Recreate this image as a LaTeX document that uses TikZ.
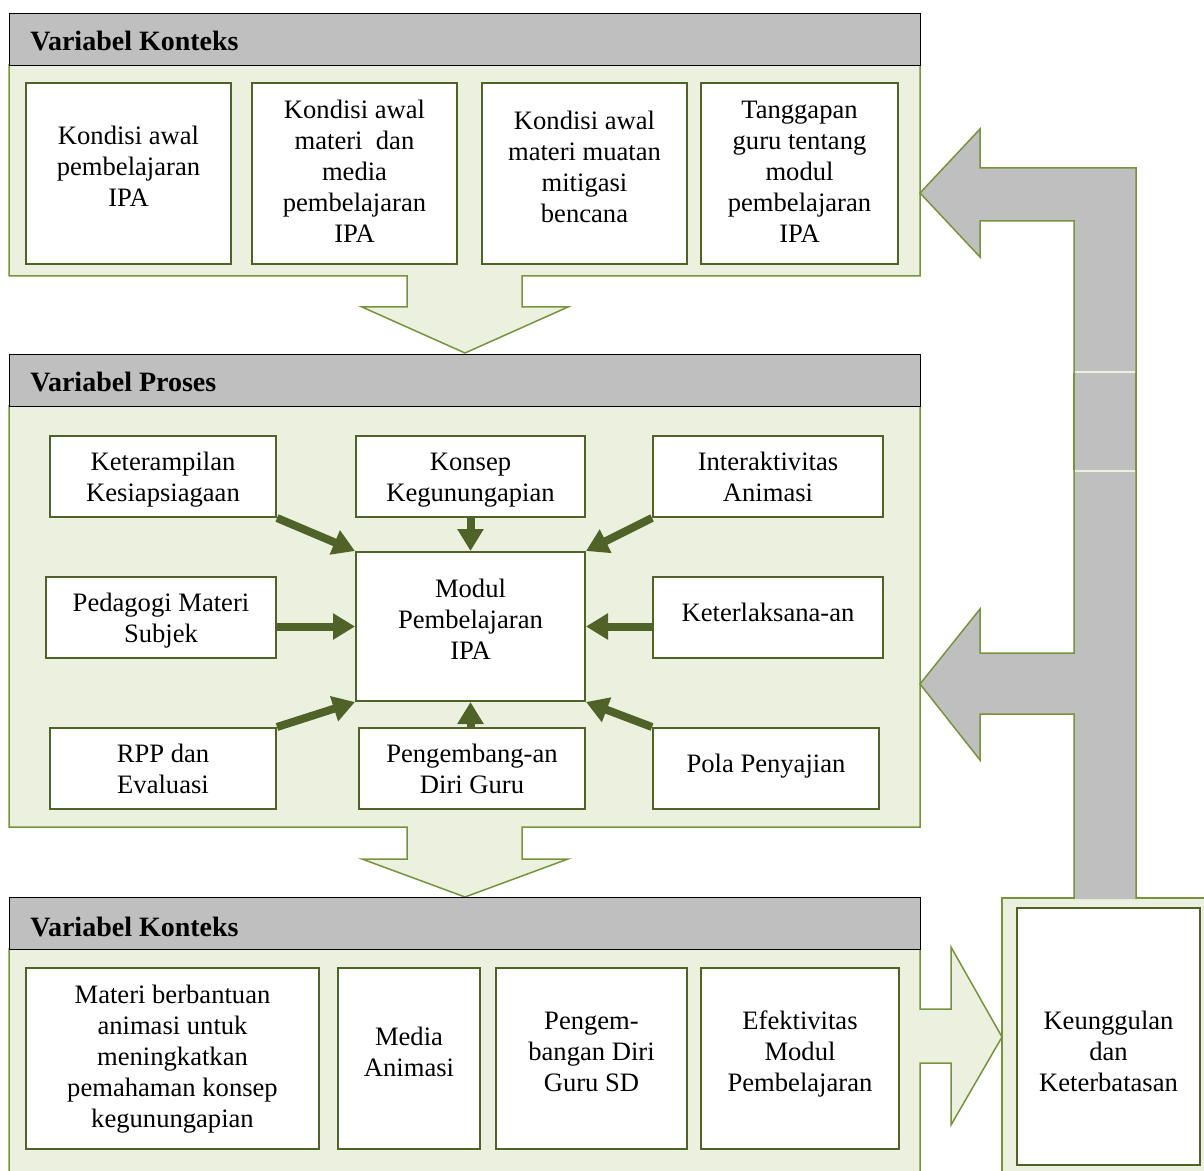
\documentclass[tikz,border=0pt]{standalone}
\usepackage{fontspec}
\setmainfont{Liberation Serif}
\usetikzlibrary{arrows.meta}
\definecolor{hdrgray}{HTML}{BFBFBF}
\definecolor{pnlfill}{HTML}{EBF1DE}
\definecolor{pnlgreen}{HTML}{77933C}
\definecolor{boxgreen}{HTML}{4F6228}
\newcommand\tx[2]{\raisebox{0pt}[\dimexpr\height-(#1)+1.5pt\relax][\dimexpr\depth+(#1)-1.5pt\relax]{\begin{tabular}{@{}c@{}}#2\end{tabular}}}
\begin{document}
\begin{tikzpicture}[x=0.5pt,y=-0.5pt,
  bx/.style={draw=boxgreen, fill=white, line width=1pt, inner sep=0pt, text=black,
    font=\fontsize{13.3}{15.5}\selectfont},
  hdr/.style={draw=black, fill=hdrgray, line width=0.7pt, inner sep=0pt, anchor=north west,
    minimum width=455.5pt, minimum height=26pt},
  hdrtxt/.style={font=\fontsize{14}{16}\selectfont\bfseries, inner sep=0pt, anchor=base west},
  pnl/.style={draw=pnlgreen, fill=pnlfill, line width=0.75pt},
  arr/.style={draw=boxgreen, line width=4pt, -{Triangle[length=11pt,width=12.5pt]}},
]
\clip (0,0) rectangle (1204,1171);
% panels with down / right arrows
\draw[pnl] (9,65) -- (920,65) -- (920,276) -- (522,276) -- (522,307) -- (568,307) -- (465,353)
  -- (362,307) -- (407,307) -- (407,276) -- (9,276) -- cycle;
\draw[pnl] (9,406) -- (920,406) -- (920,827) -- (522,827) -- (522,859) -- (568,859) -- (465,897)
  -- (362,859) -- (407,859) -- (407,827) -- (9,827) -- cycle;
\draw[pnl] (9,949) -- (920,949) -- (920,1009) -- (951,1009) -- (951,947) -- (1002,1037)
  -- (951,1125) -- (951,1063) -- (920,1063) -- (920,1195) -- (9,1195) -- cycle;
\draw[pnl] (1002,898) rectangle (1215,1195);
% headers
\node[hdr] (h1) at (9,13) {};
\node[hdr] (h2) at (9,354) {};
\node[hdr] (h3) at (9,897) {};
\node[hdrtxt] (h1t) at (30,51) {Variabel Konteks};
\node[hdrtxt] (h2t) at (30,392) {Variabel Proses};
\node[hdrtxt] (h3t) at (30,936) {Variabel Konteks};
% grey feedback arrow
\filldraw[fill=hdrgray, draw=pnlgreen, line width=0.75pt]
  (1074,899) -- (1074,714) -- (980,714) -- (980,760) -- (920,684) -- (980,609) -- (980,653)
  -- (1074,653) -- (1074,221) -- (980,221) -- (980,257) -- (920,193) -- (980,129) -- (980,168)
  -- (1136,168) -- (1136,899);
\draw[pnlfill, line width=1pt] (1075,372) -- (1135,372) (1075,471) -- (1135,471);
\draw[pnlgreen, line width=1.3pt] (1074,373) -- (1074,470) (1136,373) -- (1136,470);
% section 1 boxes
\node[bx, minimum width=102.5pt, minimum height=90.5pt] (k1) at (128.5,173.5) {\tx{3.5pt}{Kondisi awal\\pembelajaran\\IPA}};
\node[bx, minimum width=102.5pt, minimum height=90.5pt] (k2) at (354.5,173.5) {\tx{1pt}{Kondisi awal\\materi\ \ dan\\media\\pembelajaran\\IPA}};
\node[bx, minimum width=102.5pt, minimum height=90.5pt] (k3) at (584.5,173.5) {\tx{3.5pt}{Kondisi awal\\materi muatan\\mitigasi\\bencana}};
\node[bx, minimum width=98.5pt, minimum height=90.5pt] (k4) at (799.5,173.5) {\tx{1pt}{Tanggapan\\guru tentang\\modul\\pembelajaran\\IPA}};
% section 2 boxes
\node[bx, minimum width=113pt, minimum height=40.5pt] (p1) at (163,476.5) {\tx{0pt}{Keterampilan\\Kesiapsiagaan}};
\node[bx, minimum width=114.5pt, minimum height=40.5pt] (p2) at (470.5,476.5) {\tx{0pt}{Konsep\\Kegunungapian}};
\node[bx, minimum width=115pt, minimum height=40.5pt] (p3) at (768,476.5) {\tx{0pt}{Interaktivitas\\Animasi}};
\node[bx, minimum width=115pt, minimum height=40.5pt] (p4) at (161,617.5) {\tx{0pt}{Pedagogi Materi\\Subjek}};
\node[bx, minimum width=114.5pt, minimum height=74.5pt] (pm) at (470.5,626.5) {\tx{3.75pt}{Modul\\Pembelajaran\\IPA}};
\node[bx, minimum width=115pt, minimum height=40.5pt] (p5) at (768,617.5) {\tx{2.75pt}{Keterlaksana-an}};
\node[bx, minimum width=113pt, minimum height=40.5pt] (p6) at (163,768.5) {\tx{0pt}{RPP dan\\Evaluasi}};
\node[bx, minimum width=113pt, minimum height=40.5pt] (p7) at (472,768.5) {\tx{0pt}{Pengembang-an\\Diri Guru}};
\node[bx, minimum width=113pt, minimum height=40.5pt] (p8) at (766,768.5) {\tx{2.75pt}{Pola Penyajian}};
% arrows into the module
\draw[arr] (p1.south east) -- (pm.north west);
\draw[arr] (p2.south) -- (pm.north);
\draw[arr] (p3.south west) -- (pm.north east);
\draw[arr] (p4.east |- pm.west) -- (pm.west);
\draw[arr] (p5.west |- pm.east) -- (pm.east);
\draw[arr] (p6.north east) -- (pm.south west);
\draw[arr] (pm.south |- p7.north) -- (pm.south);
\draw[arr] (p8.north west) -- (pm.south east);
% section 3 boxes
\node[bx, minimum width=146.5pt, minimum height=90.5pt] (b1) at (172.5,1058.5) {\tx{1.25pt}{Materi berbantuan\\animasi untuk\\meningkatkan\\pemahaman konsep\\kegunungapian}};
\node[bx, minimum width=71pt, minimum height=90.5pt] (b2) at (409,1058.5) {\tx{3.5pt}{Media\\Animasi}};
\node[bx, minimum width=95.5pt, minimum height=90.5pt] (b3) at (591.5,1058.5) {\tx{3.75pt}{Pengem-\\bangan Diri\\Guru SD}};
\node[bx, minimum width=99pt, minimum height=90.5pt] (b4) at (800,1058.5) {\tx{3.75pt}{Efektivitas\\Modul\\Pembelajaran}};
\node[bx, minimum width=91.5pt, minimum height=128.5pt] (kk) at (1108.5,1036.5) {\tx{-7.5pt}{Keunggulan\\dan\\Keterbatasan}};
\end{tikzpicture}
\end{document}
